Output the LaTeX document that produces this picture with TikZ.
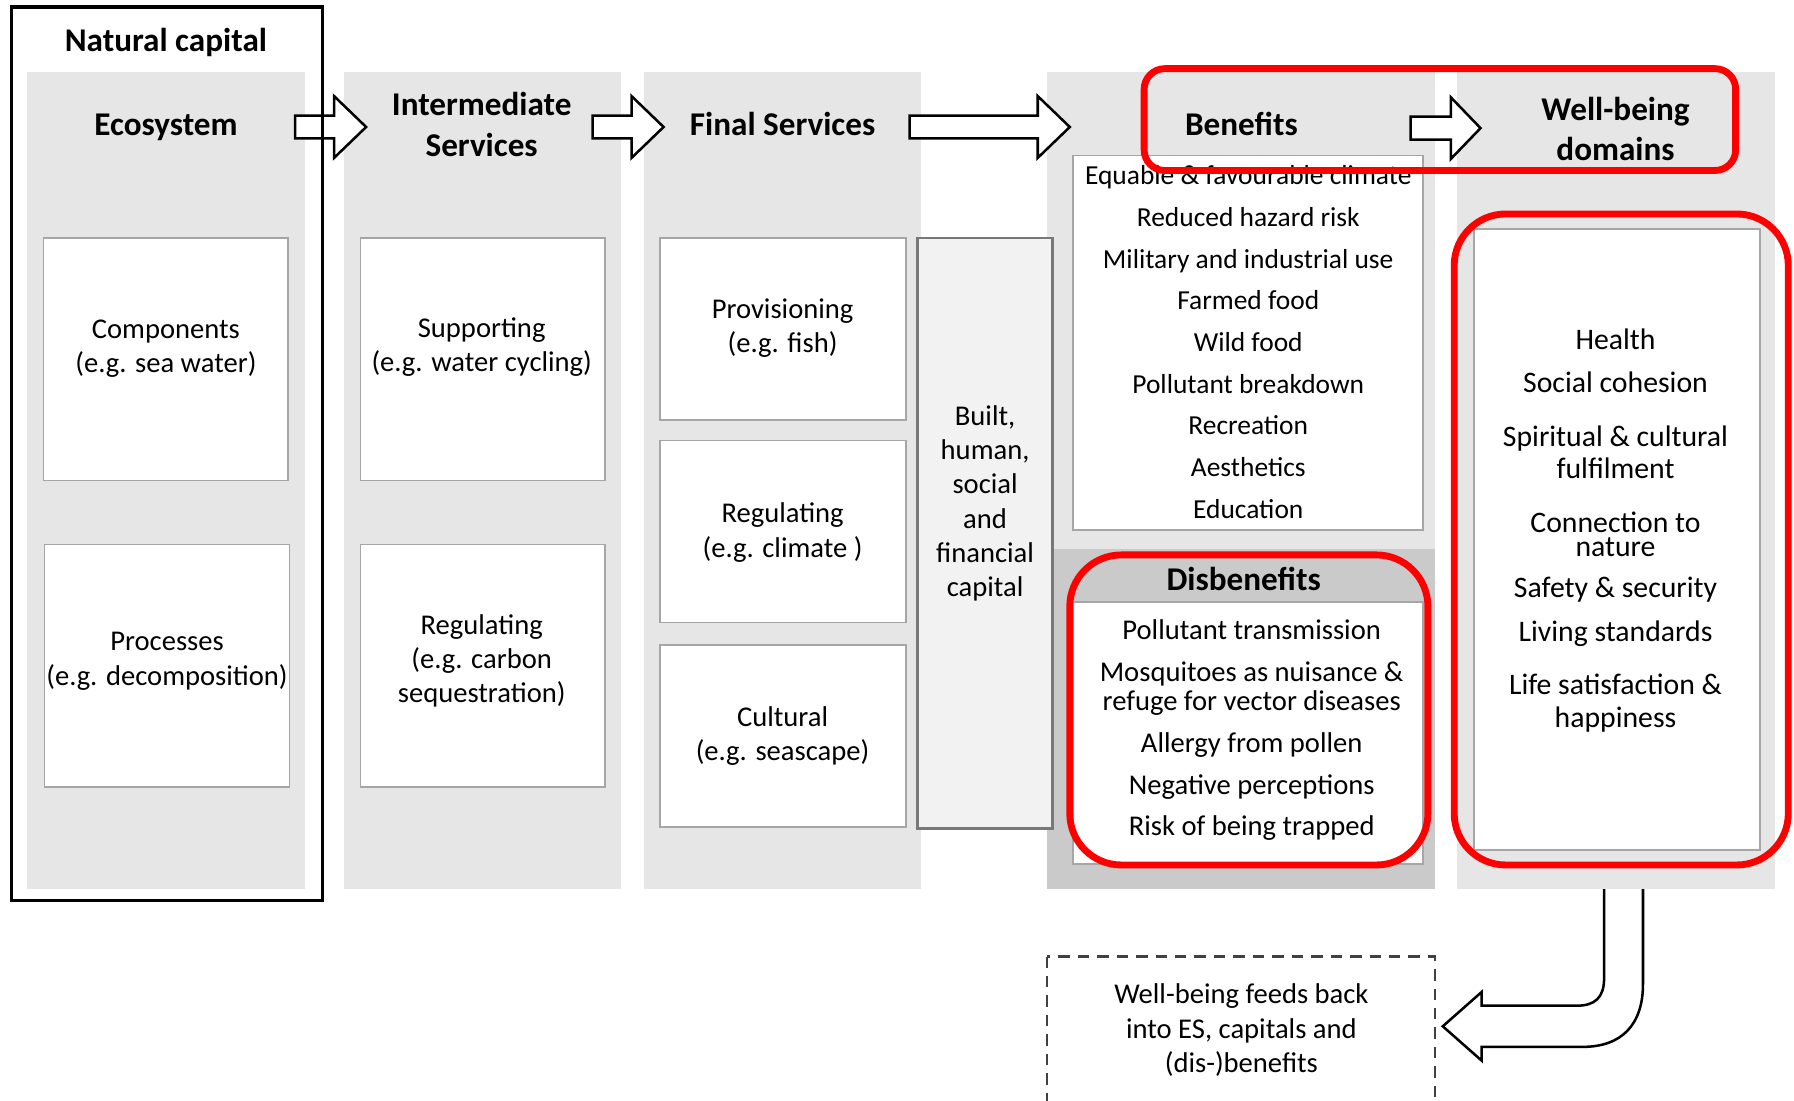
\documentclass[tikz,border=0pt]{standalone}
\usepackage{fontspec}
\setmainfont{Carlito}
\usetikzlibrary{positioning}
\definecolor{colgrey}{RGB}{230,230,230}
\definecolor{darkgrey}{RGB}{202,202,202}
\definecolor{boxline}{RGB}{166,166,166}
\definecolor{capfill}{RGB}{242,242,242}
\definecolor{capline}{RGB}{120,120,120}
\definecolor{hired}{RGB}{255,0,0}
\definecolor{dashgrey}{RGB}{64,64,64}

\begin{document}
\begin{tikzpicture}[x=1pt,y=-1pt]
    \tikzset{%
      colbg/.style={fill=colgrey},
      wbox/.style={draw=boxline, fill=white, line width=1.5pt, inner sep=0pt},
      txt/.style={font=\fontsize{25}{30}\selectfont, align=center, inner sep=0pt},
      hdr/.style={font=\fontsize{29}{36}\selectfont\bfseries, align=center,
        inner sep=0pt},
      blk/.style={draw=black, fill=white, line width=2.2pt},
      redbox/.style={draw=hired, line width=6pt, rounded corners=#1},
    }
    \useasboundingbox (0,0) rectangle (1568,962);

    % columns
    \fill[colbg] (24,63) rectangle (267,777);
    \fill[colbg] (301,63) rectangle (543,777);
    \fill[colbg] (563,63) rectangle (805,777);
    \fill[colbg] (915,63) rectangle (1254,777);
    \fill[darkgrey] (915,480) rectangle (1254,777);
    \fill[colbg] (1273,63) rectangle (1551,777);

    % arrows between columns
    \foreach \xs/\xb/\xt/\yc in {258/292/320/111, 518/552/580/111,
      795/907/935/111, 1233/1268/1294/112} {
      \draw[blk] (\xs,\yc-10) -- (\xb,\yc-10) -- (\xb,\yc-27) -- (\xt,\yc)
        -- (\xb,\yc+27) -- (\xb,\yc+10) -- (\xs,\yc+10) -- cycle;
    }

    \draw[line width=3pt] (10,6) rectangle (282,787);

    \node[hdr] (natcap) at (145,37) {Natural capital};
    \node[hdr] (eco) at (145,111) {Ecosystem};
    \node[hdr] (inter) at (421,109) {Intermediate\\Services};
    \node[hdr] (final) at (684,108) {Final Services};
    \node[hdr] (ben) at (1085,108) {Benefits};
    \node[hdr, font=\fontsize{29}{35}\selectfont\bfseries] (wbd) at (1412,113)
      {Well-being\\domains};

    % ecosystem
    \node[wbox, minimum width=214pt, minimum height=212pt] (comp) at (145,314) {};
    \node[txt] (comptxt) at (145,304.5) {Components\\(e.g. sea water)};
    \node[wbox, minimum width=214pt, minimum height=212pt] (proc) at (146,582) {};
    \node[txt] (proctxt) at (146,578) {Processes\\(e.g. decomposition)};

    % intermediate services
    \node[wbox, minimum width=214pt, minimum height=212pt] (supp) at (422,314) {};
    \node[txt] (supptxt) at (421,303.5) {Supporting\\(e.g. water cycling)};
    \node[wbox, minimum width=214pt, minimum height=212pt] (regi) at (422,582) {};
    \node[txt] (regitxt) at (421,577.5) {Regulating\\(e.g. carbon\\sequestration)};

    % final services
    \node[wbox, minimum width=215pt, minimum height=159pt] (prov) at (684.5,287.5) {};
    \node[txt] (provtxt) at (684,286.5) {Provisioning\\(e.g. fish)};
    \node[wbox, minimum width=215pt, minimum height=159pt] (regf) at (684.5,464.5) {};
    \node[txt] (regftxt) at (684,465.5) {Regulating\\(e.g. climate )};
    \node[wbox, minimum width=215pt, minimum height=159pt] (cult) at (684.5,643.5) {};
    \node[txt] (culttxt) at (684,643.5) {Cultural\\(e.g. seascape)};

    \node[draw=capline, fill=capfill, line width=2pt, inner sep=0pt,
      minimum width=118pt, minimum height=516pt] (built) at (861,466) {};
    \node[txt] (builttxt) at (861,440)
      {Built,\\human,\\social\\and\\financial\\capital};

    % benefits
    \node[wbox, minimum width=306pt, minimum height=327pt] (benbox) at (1091,299.5) {};
    \node[txt, font=\fontsize{24}{36.4}\selectfont] (bentxt) at (1091,299)
      {Equable \& favourable climate\\Reduced hazard risk\\
       Military and industrial use\\Farmed food\\Wild food\\
       Pollutant breakdown\\Recreation\\Aesthetics\\Education};

    % disbenefits
    \node[hdr] (dis) at (1087,506) {Disbenefits};
    \node[wbox, minimum width=306pt, minimum height=229pt] (disbox) at (1091,640.5) {};
    \node[txt, font=\fontsize{25}{25}\selectfont] (distxt) at (1094,638)
      {Pollutant transmission\\[12pt]Mosquitoes as nuisance \&\\
       refuge for vector diseases\\[12pt]Allergy from pollen\\[11pt]
       Negative perceptions\\[11pt]Risk of being trapped};

    % well-being domains
    \node[wbox, minimum width=250pt, minimum height=543pt] (wbbox) at (1413,471.5) {};
    \node[txt, font=\fontsize{26}{28}\selectfont] (wbtxt) at (1412,463.5)
      {Health\\[10pt]Social cohesion\\[19pt]Spiritual \& cultural\\fulfilment\\[19pt]
       Connection to\\[-7pt]nature\\[8pt]Safety \& security\\[10pt]
       Living standards\\[19pt]Life satisfaction \&\\happiness};

    % feedback
    \draw[dashgrey, line width=2.2pt, dash pattern=on 10pt off 7pt]
      (915,836) rectangle (1254,1000);
    \node[txt] (feed) at (1085,900.5)
      {Well-being feeds back\\into ES, capitals and\\(dis-)benefits};
    \coordinate (fbin) at (1402,777);
    \coordinate (fbout) at (1436,777);
    \draw[blk] (fbin) -- (1402,855) .. controls (1402,872) and (1394,879) .. (1378,879)
      -- (1295,879) -- (1295,867) -- (1261,897) -- (1295,927) -- (1295,915)
      -- (1383,915) .. controls (1418,915) and (1436,895) .. (1436,860) -- (fbout);

    % highlights
    \draw[redbox=18] (1000,60) rectangle (1517,149);
    \draw[redbox=45] (935,485) rectangle (1248,756);
    \draw[redbox=45] (1271,187) rectangle (1563,756);
\end{tikzpicture}
\end{document}
